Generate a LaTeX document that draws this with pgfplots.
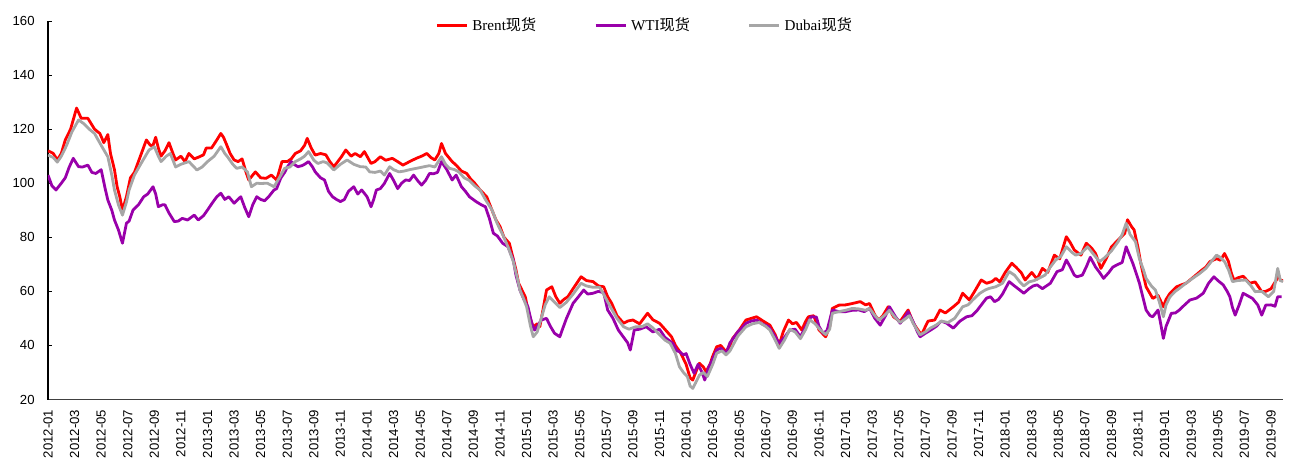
\documentclass[border=0pt]{standalone}
\usepackage{fontspec}
\setmainfont{Liberation Serif}
\newfontfamily\cjk{Noto Sans CJK SC}
\newfontfamily\tickfont{Liberation Sans}
\usepackage{pgfplots}
\pgfplotsset{compat=1.18}
\definecolor{brent}{RGB}{255,0,0}
\definecolor{wti}{RGB}{153,0,170}
\definecolor{dubai}{RGB}{166,166,166}
\begin{document}
\begin{tikzpicture}
\begin{axis}[
  name=ax, scale only axis, width=617.5bp, height=189.25bp,
  xmin=0, xmax=92.9, ymin=20, ymax=160,
  ytick={20,40,...,160},
  xtick={0,2,...,92},
  xticklabels={2012-01,2012-03,2012-05,2012-07,2012-09,2012-11,
    2013-01,2013-03,2013-05,2013-07,2013-09,2013-11,
    2014-01,2014-03,2014-05,2014-07,2014-09,2014-11,
    2015-01,2015-03,2015-05,2015-07,2015-09,2015-11,
    2016-01,2016-03,2016-05,2016-07,2016-09,2016-11,
    2017-01,2017-03,2017-05,2017-07,2017-09,2017-11,
    2018-01,2018-03,2018-05,2018-07,2018-09,2018-11,
    2019-01,2019-03,2019-05,2019-07,2019-09},
  axis x line*=bottom, axis y line*=left,
  x axis line style={-, draw=black!75, line width=0.75bp},
  y axis line style={-, draw=black, line width=0.75bp},
  major x tick style={draw=none},
  major y tick style={draw=black, line width=0.5bp},
  major tick length=2bp, tick align=inside,
  /pgf/number format/assume math mode=true,
  tick label style={font=\tickfont\fontsize{6.6}{7}\selectfont, inner sep=0pt},
  xticklabel style={rotate=90, anchor=east},
  yticklabel style={anchor=east},
  xticklabel shift=5bp, yticklabel shift=6.5bp,
  legend style={at={(0.484,0.989)}, anchor=center, draw=none, fill=none,
    font=\fontsize{7.6}{9}\selectfont, legend columns=3,
    /tikz/every even column/.append style={column sep=27bp}},
  legend cell align=left,
  legend image code/.code={\draw[#1] (0bp,0bp) -- (15bp,0bp);},
  every axis plot/.append style={line width=1.4bp, line join=round, mark=none},
]
% Brent
\addplot[brent] coordinates {
(0,112)(0.4,111)(0.7,108.6)(1.0,111)(1.3,116)(1.7,120)(2.15,127.8)(2.5,124)(3.0,124)(3.5,120)
(3.9,118.4)(4.2,115)(4.5,118)(4.7,111)(5.0,105)(5.2,98.7)(5.4,95)(5.6,90)(5.9,95)(6.2,102)
(6.5,104)(6.8,108)(7.1,112)(7.4,116)(7.7,114)(7.9,114)(8.1,117)(8.3,113)(8.5,110)(8.8,112)
(9.1,115)(9.4,111)(9.6,108.6)(10.0,110)(10.3,108)(10.6,111)(11.0,109)(11.4,109.8)(11.7,110.5)(11.9,113)
(12.3,113)(12.7,116)(13.0,118.4)(13.2,117)(13.4,114.7)(13.7,111)(14.0,108.6)(14.3,108)(14.6,109)(14.9,104)
(15.1,101.2)(15.4,103)(15.6,104.2)(16.0,102)(16.4,101.8)(16.8,103)(17.2,101.2)(17.6,108)(18.0,108)(18.3,109)
(18.6,111)(19.0,112)(19.3,114)(19.5,116.6)(19.8,113)(20.1,110.4)(20.5,111)(20.9,110.5)(21.2,108)(21.5,106.1)
(21.8,108)(22.1,110)(22.4,112.3)(22.8,110)(23.1,111)(23.5,109.8)(23.8,111.7)(24.3,107.3)(24.6,108)(25.0,109.8)
(25.4,108.5)(25.9,109.2)(26.3,108)(26.7,106.7)(27.2,108)(27.7,109.2)(28.1,110)(28.5,111)(28.8,109.5)(29.1,108.6)
(29.4,111)(29.6,114.7)(29.9,111)(30.1,109.8)(30.4,108)(30.7,106.7)(31.1,104.5)(31.5,103.6)(31.8,101.5)(32.1,100)
(32.5,97.5)(33.0,95)(33.4,90)(33.7,86.4)(34.0,84)(34.3,80)(34.7,77.8)(35.0,72)(35.2,68)(35.4,63)
(35.7,60)(35.9,58)(36.2,51)(36.5,46.9)(36.8,48)(37.0,47)(37.3,55)(37.5,60.5)(37.9,61.7)(38.2,58)
(38.5,55.6)(38.8,57)(39.1,58)(39.5,61)(40.1,65.4)(40.5,64)(41.0,63.6)(41.4,62)(41.8,61.7)(42.1,58)
(42.4,55.6)(42.8,51)(43.3,48.2)(43.6,49)(44.0,49.4)(44.5,48)(45.1,51.9)(45.5,49.5)(46.0,48.2)(46.4,46)
(46.9,43.2)(47.2,40)(47.6,37.1)(48.0,33)(48.3,28)(48.5,27.2)(48.8,31)(49.0,33.4)(49.3,32)(49.5,30.3)
(49.8,33)(50.0,36)(50.3,39.5)(50.6,40)(51.0,37.7)(51.3,40)(51.5,42.6)(52.0,45.7)(52.5,49.4)(52.9,50)
(53.3,50.6)(53.8,49)(54.3,47.5)(54.7,44)(55.0,40.2)(55.3,45)(55.7,49.4)(56.0,48)(56.3,48.5)(56.7,45.7)
(57.0,49)(57.2,50.6)(57.6,51)(58.0,45.7)(58.5,43.2)(58.8,47)(59.0,53.7)(59.5,54.9)(60.0,55)(60.5,55.5)
(61.1,56.2)(61.5,55)(61.8,55.5)(62.2,51.2)(62.5,49.4)(62.8,51)(63.2,54.3)(63.6,50.6)(64.1,48.8)(64.4,51)
(64.7,53.1)(65.1,48.2)(65.4,46)(65.7,43.9)(66.0,47)(66.2,49)(66.7,49.4)(67.1,53.1)(67.5,52)(68.1,54.3)
(68.5,56)(68.8,59.3)(69.3,56.8)(69.7,60)(70.2,64.2)(70.6,63)(71.0,63.6)(71.3,64.8)(71.6,63.5)(72.0,67)
(72.5,70.4)(72.8,69)(73.2,67)(73.5,64.2)(74.0,67)(74.4,64.5)(74.8,68.5)(75.2,67)(75.7,73.4)(76.1,72)
(76.6,80.2)(76.9,78)(77.2,75.3)(77.7,73.4)(78.1,77.8)(78.5,76)(78.8,74)(79.2,68.5)(79.6,72.1)(80.0,76.5)
(80.5,79)(81.0,81.5)(81.2,86.5)(81.5,84)(81.7,82.7)(82.0,76)(82.2,70.4)(82.4,66)(82.6,61.7)(83.1,57.4)
(83.5,58.5)(83.9,54.3)(84.1,57)(84.4,59.3)(84.9,61.7)(85.3,62.5)(85.6,63)(86.2,65.4)(86.8,67.9)(87.1,69)
(87.4,71)(87.9,72.1)(88.2,71.5)(88.5,74)(88.8,71)(89.0,67)(89.2,64.2)(89.5,65)(89.9,65.6)(90.4,63)
(90.8,63.5)(91.3,59.9)(91.6,60)(92.0,61)(92.4,64.2)(92.5,67)(92.7,64)(92.9,64)
};
\addlegendentry{Brent{\cjk 现货}}
% WTI
\addplot[wti] coordinates {
(0,103)(0.3,99)(0.6,97.5)(1.0,100)(1.3,102)(1.6,106)(1.9,109.2)(2.3,106.1)(2.6,106)(3.0,106.7)
(3.3,104)(3.6,103.6)(4.0,105)(4.3,98)(4.5,93.8)(4.8,90)(5.0,86.4)(5.3,82.7)(5.6,77.8)(5.9,85.2)
(6.1,86)(6.4,90.1)(6.8,92)(7.2,95)(7.5,96)(7.9,98.7)(8.1,96)(8.3,91.3)(8.6,92)(8.8,92)
(9.1,89)(9.5,85.8)(9.8,86)(10.1,87)(10.5,86.4)(11.0,88.2)(11.3,86.4)(11.7,88)(12.0,90.1)(12.4,93)
(12.7,95)(13.0,96.3)(13.3,94)(13.6,95)(14.0,92.6)(14.5,95)(14.8,91)(15.1,87.6)(15.4,92)(15.7,95)
(16.0,94)(16.3,93.5)(16.6,95)(17.0,97.5)(17.2,98)(17.5,101.8)(17.8,104)(18.0,106)(18.3,108)(18.5,107)
(18.8,106.1)(19.1,106.5)(19.3,107)(19.6,108)(19.9,106)(20.1,104.2)(20.5,102)(20.8,101.2)(21.1,97)(21.4,95)
(21.7,94)(22.0,93.2)(22.3,94)(22.6,97)(23.0,98.7)(23.3,96)(23.6,97.5)(24.0,95)(24.3,91.3)(24.5,94)
(24.7,97.5)(25.0,98)(25.3,99.9)(25.7,103.6)(26.0,101)(26.3,98)(26.6,100)(26.9,101.2)(27.2,101)(27.5,103)
(27.8,101)(28.1,99.3)(28.4,101)(28.7,103.6)(29.0,103.5)(29.3,104)(29.6,108)(30.0,105)(30.4,101.2)(30.7,103)
(31.1,98.7)(31.4,97)(31.7,95)(32.2,93.2)(32.6,92)(32.9,91.3)(33.2,87)(33.5,81.5)(33.8,80.5)(34.2,77.8)
(34.6,76.5)(35.0,71.6)(35.2,66)(35.5,60.5)(35.8,57)(36.1,54.3)(36.4,48)(36.6,45.7)(36.8,47)(37.1,49.4)
(37.5,50)(37.8,47)(38.1,44.5)(38.5,43.2)(38.7,46)(39.0,50)(39.5,55.6)(39.9,58)(40.3,60.5)(40.6,59)
(41.0,59.3)(41.4,60)(41.8,59.5)(42.1,53.1)(42.5,50)(42.9,45.7)(43.3,43)(43.6,41)(43.8,38.3)(44.1,45.7)
(44.5,46)(45.0,46.9)(45.5,45)(46.0,46)(46.4,43)(47.0,40.8)(47.3,38)(47.5,37.7)(47.8,36.5)(48.0,37)
(48.3,33)(48.6,29.7)(48.9,33)(49.2,30)(49.4,27.2)(49.7,32)(50.0,35)(50.3,38.3)(50.6,39)(51.0,37)
(51.3,41)(51.6,43)(51.9,45.1)(52.2,46.5)(52.5,48.2)(52.9,49)(53.3,49.4)(53.7,48)(54.2,47)(54.6,44)
(55.0,40.8)(55.4,43)(55.8,45.7)(56.2,46)(56.6,43.2)(57.0,47)(57.4,50.6)(57.8,50.5)(58.0,47)(58.3,44.5)
(58.6,45.5)(59.0,53.1)(59.5,52.5)(60.0,52.5)(60.5,53)(61.0,53.1)(61.4,52.5)(61.8,53.7)(62.2,50)(62.6,47.5)
(63.0,51)(63.3,54.3)(63.7,51)(64.1,48.2)(64.4,50)(64.7,52.5)(65.1,48.5)(65.4,45)(65.6,43.2)(66.0,44.5)
(66.4,45.7)(66.8,47)(67.2,49)(67.6,48.2)(68.1,46.4)(68.6,49)(69.1,50.6)(69.5,51)(69.9,53)(70.3,55.6)
(70.6,57.5)(70.9,58)(71.2,56.2)(71.5,57)(71.8,59)(72.3,63.6)(72.7,62)(73.1,60.5)(73.4,59.3)(73.8,61)
(74.1,62)(74.4,62.4)(74.8,61)(75.4,63)(75.9,67.3)(76.3,68)(76.6,71.6)(76.9,69)(77.2,66)(77.4,65.4)
(77.8,66)(78.1,69)(78.4,72.6)(78.8,69)(79.1,67)(79.4,64.8)(79.8,67)(80.1,69)(80.5,70)(80.8,70.7)
(81.1,76.5)(81.3,74)(81.6,70.4)(81.9,66)(82.1,63)(82.4,57)(82.6,53.1)(82.9,51)(83.1,50.6)(83.5,53.1)
(83.7,48)(83.9,42.6)(84.1,47)(84.5,51.9)(84.8,52)(85.1,53.1)(85.5,55)(85.9,56.8)(86.4,57.5)(86.9,59.3)
(87.3,63)(87.7,65.4)(88.0,64)(88.4,62.4)(88.7,60)(88.9,58)(89.1,54)(89.3,51.2)(89.6,55)(89.9,59.3)
(90.2,58.5)(90.6,57.4)(91.0,55)(91.3,51.2)(91.6,54.9)(92.0,55)(92.3,54.5)(92.5,58)(92.8,58)
};
\addlegendentry{WTI{\cjk 现货}}
% Dubai
\addplot[dubai] coordinates {
(0,110.4)(0.4,109.5)(0.7,107.8)(1.0,110)(1.4,114)(1.8,119)(2.3,123.4)(2.7,122)(3.1,120)(3.5,118.4)
(4.0,114)(4.5,109.8)(4.8,103)(5.0,97.5)(5.3,92)(5.6,88.2)(5.9,93)(6.1,97.5)(6.5,103)(7.0,107.3)
(7.6,112.3)(8.0,113.5)(8.3,110)(8.5,108)(8.9,110)(9.2,111)(9.6,106)(10.0,107)(10.6,108)(11.2,104.9)
(11.6,106)(12.0,108)(12.5,110)(13.0,113.5)(13.3,111)(13.5,109.8)(13.9,107)(14.2,105.5)(14.6,106)(15.0,104.2)
(15.3,98.7)(15.7,100)(16.0,99.9)(16.5,100)(17.0,98.7)(17.4,102)(17.8,105.5)(18.2,106)(18.6,108)(19.0,109)
(19.3,110)(19.6,111.7)(20.0,108.5)(20.3,107.3)(20.7,108)(21.0,107.5)(21.5,104.9)(22.0,107)(22.5,108.6)(23.0,107)
(23.5,106.1)(23.9,106)(24.2,104.2)(24.6,104)(25.0,104.5)(25.3,103)(25.7,106.1)(26.0,105)(26.4,104.2)(26.8,104.5)
(27.2,105)(27.7,105.5)(28.2,106)(28.7,106.5)(29.1,106)(29.6,109.8)(29.9,107)(30.2,105.5)(30.6,105)(30.9,104.2)
(31.3,102)(31.7,101)(32.1,99)(32.5,97.5)(32.9,94)(33.4,90.1)(33.8,85)(34.2,81)(34.6,76.5)(35.0,71)
(35.3,65)(35.5,60.5)(35.8,57)(36.0,54.3)(36.3,47)(36.5,43.2)(36.8,45)(37.1,50)(37.4,55)(37.7,58)
(38.1,56)(38.5,54)(39.0,56)(39.5,59)(40.1,63)(40.5,62)(41.0,61.5)(41.5,61.5)(41.9,58)(42.3,54.3)
(42.8,50)(43.3,46.9)(43.7,46)(44.2,46.9)(44.7,47)(45.1,48)(45.5,46.5)(46.0,44)(46.4,42)(46.8,40.8)
(47.2,37)(47.5,32.1)(47.8,30)(48.1,28.4)(48.3,25)(48.5,24.1)(48.7,26)(49.0,29)(49.3,30)(49.6,28.5)
(50.0,33)(50.3,37.1)(50.7,38)(51.0,36.5)(51.3,38)(51.9,43.5)(52.5,46.9)(53.0,48)(53.5,48.5)(54.0,47)
(54.3,45.7)(54.7,42)(55.0,38.9)(55.4,42)(55.8,46)(56.2,45)(56.6,42.5)(57.0,46)(57.3,49.5)(57.7,48)
(58.1,45.7)(58.5,44)(58.8,46)(59.0,51.9)(59.5,52.5)(60.0,53)(60.5,53.7)(61.0,53.5)(61.5,53)(61.8,53.7)
(62.2,51)(62.5,49.4)(62.9,51)(63.3,53)(63.7,50.5)(64.1,48.5)(64.4,49.5)(64.8,51)(65.1,48)(65.6,43.9)
(66.0,45)(66.4,46.5)(66.8,47.5)(67.2,49)(67.7,48.5)(68.2,50)(68.8,54.3)(69.2,55)(69.6,57)(70.1,59.3)
(70.5,60.5)(70.8,61.1)(71.3,61.7)(71.8,63)(72.3,67.3)(72.7,66)(73.1,63.5)(73.4,62)(73.8,63.5)(74.2,64)
(74.6,65)(75.0,66)(75.4,69)(75.8,71.6)(76.2,73)(76.6,76.5)(77.0,74.5)(77.3,73.4)(77.7,74)(78.2,76.5)
(78.6,74)(79.1,71)(79.5,72.5)(80.0,75)(80.5,78.4)(80.8,81)(81.1,85.2)(81.4,81)(81.8,78.4)(82.1,72)
(82.4,68)(82.6,64.8)(83.0,62)(83.3,60.5)(83.6,56)(83.9,50.6)(84.1,55)(84.4,58)(84.8,60)(85.1,61.1)
(85.6,63)(86.1,64.8)(86.6,66.5)(87.1,68.5)(87.5,71)(87.9,73.4)(88.2,72.5)(88.5,71)(88.8,68)(89.1,63.6)
(89.5,64)(90.1,64.2)(90.5,62)(90.8,59.9)(91.3,60)(91.8,58)(92.2,60)(92.5,68.5)(92.7,64)(92.9,63.6)
};
\addlegendentry{Dubai{\cjk 现货}}
\end{axis}
\pgfresetboundingbox
\path[use as bounding box] ([xshift=-24bp,yshift=-29.25bp]ax.south west) rectangle ([xshift=3.5bp,yshift=10.5bp]ax.north east);
\end{tikzpicture}
\end{document}
